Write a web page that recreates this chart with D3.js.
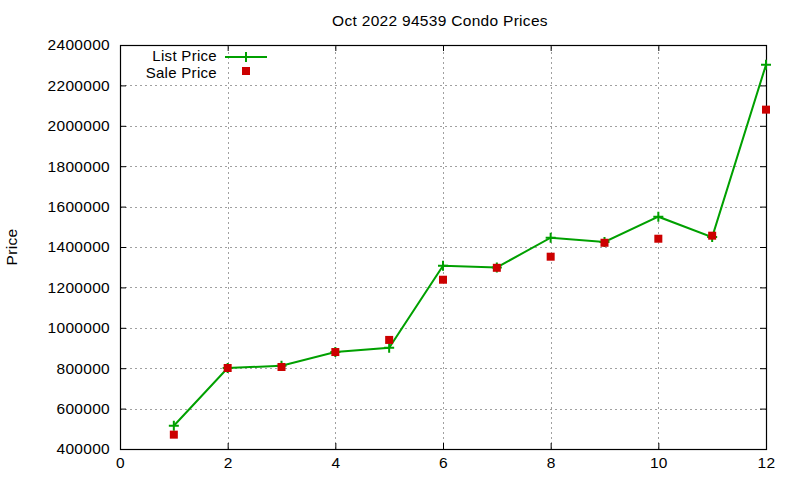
<!DOCTYPE html>
<html>
<head>
<meta charset="utf-8">
<script src="https://cdn.jsdelivr.net/npm/d3@7"></script>
<style>
  body { margin: 0; background: #fff; }
  text { font-family: "Liberation Sans", Arial, sans-serif; font-size: 15.5px; letter-spacing: 0.3px; fill: #000; }
  .legend text { font-size: 15px; }
</style>
</head>
<body>
<div id="chart"></div>
<script>
// Data
const months = [1, 2, 3, 4, 5, 6, 7, 8, 9, 10, 11, 12];
const listPrice = [515000, 801000, 812000, 880000, 901000, 1307000, 1299000, 1446000, 1425000, 1550000, 1449000, 2302000];
const salePrice = [471000, 801000, 806000, 880000, 940000, 1238000, 1297000, 1352000, 1421000, 1441000, 1456000, 2080000];
const xTicks = [0, 2, 4, 6, 8, 10, 12];
const yTicks = [400000, 600000, 800000, 1000000, 1200000, 1400000, 1600000, 1800000, 2000000, 2200000, 2400000];

const width = 800, height = 480;
const margin = { left: 120, right: 34, top: 45, bottom: 31 };

const svg = d3.select("#chart").append("svg")
    .attr("width", width)
    .attr("height", height);

const x = d3.scaleLinear().domain([0, 12]).range([margin.left, width - margin.right]);
const y = d3.scaleLinear().domain([400000, 2400000]).range([height - margin.bottom, margin.top]);

// Grid
const grid = svg.append("g")
    .attr("stroke", "#a0a0a0")
    .attr("stroke-width", 1)
    .attr("stroke-dasharray", "2,3");

grid.selectAll("line.gx")
    .data(xTicks.slice(1, -1))
    .join("line")
    .attr("x1", d => Math.round(x(d)) + 0.5)
    .attr("x2", d => Math.round(x(d)) + 0.5)
    .attr("y1", y(400000))
    .attr("y2", y(2400000));

grid.selectAll("line.gy")
    .data(yTicks.slice(1, -1))
    .join("line")
    .attr("y1", d => Math.round(y(d)) + 0.5)
    .attr("y2", d => Math.round(y(d)) + 0.5)
    .attr("x1", x(0))
    .attr("x2", x(12));

// Axes with inward ticks (mirrored on top and right)
const tickLen = 6;
svg.append("g")
    .attr("transform", `translate(0,${y(400000)})`)
    .call(d3.axisBottom(x).tickValues(xTicks).tickSizeInner(-tickLen).tickSizeOuter(0).tickPadding(8))
    .call(g => g.select(".domain").remove());

svg.append("g")
    .attr("transform", `translate(0,${y(2400000)})`)
    .call(d3.axisTop(x).tickValues(xTicks).tickSizeInner(-tickLen).tickSizeOuter(0).tickFormat(""))
    .call(g => g.select(".domain").remove());

svg.append("g")
    .attr("transform", `translate(${x(0)},0)`)
    .call(d3.axisLeft(y).tickValues(yTicks).tickSizeInner(-tickLen).tickSizeOuter(0).tickPadding(10).tickFormat(d3.format("d")))
    .call(g => g.select(".domain").remove());

svg.append("g")
    .attr("transform", `translate(${x(12)},0)`)
    .call(d3.axisRight(y).tickValues(yTicks).tickSizeInner(-tickLen).tickSizeOuter(0).tickFormat(""))
    .call(g => g.select(".domain").remove());

svg.selectAll(".tick text")
    .attr("font-family", null)
    .attr("font-size", null)
    .style("font-size", "15.5px");
svg.selectAll(".tick line").attr("stroke", "#000");

// Border
svg.append("rect")
    .attr("x", x(0) + 0.5)
    .attr("y", y(2400000) + 0.5)
    .attr("width", x(12) - x(0))
    .attr("height", y(400000) - y(2400000))
    .attr("fill", "none")
    .attr("stroke", "#000")
    .attr("stroke-width", 1.2);

// Title and y label
svg.append("text")
    .attr("x", 440)
    .attr("y", 26)
    .attr("text-anchor", "middle")
    .text("Oct 2022 94539 Condo Prices");

svg.append("text")
    .attr("transform", "translate(17,247) rotate(-90)")
    .attr("text-anchor", "middle")
    .text("Price");

// List price line
const green = "#00a000";
const red = "#cc0000";
const listData = months.map((m, i) => ({ m, v: listPrice[i] }));
const saleData = months.map((m, i) => ({ m, v: salePrice[i] }));

svg.append("path")
    .datum(listData)
    .attr("fill", "none")
    .attr("stroke", green)
    .attr("stroke-width", 2)
    .attr("d", d3.line().x(d => x(d.m)).y(d => y(d.v)));

function plusPath(s) {
    return `M${-s},0H${s}M0,${-s}V${s}`;
}

svg.append("g")
    .selectAll("path")
    .data(listData)
    .join("path")
    .attr("transform", d => `translate(${x(d.m)},${y(d.v)})`)
    .attr("d", plusPath(5))
    .attr("stroke", green)
    .attr("stroke-width", 2)
    .attr("fill", "none");

// Sale price squares
svg.append("g")
    .selectAll("rect")
    .data(saleData)
    .join("rect")
    .attr("x", d => x(d.m) - 4)
    .attr("y", d => y(d.v) - 4)
    .attr("width", 8)
    .attr("height", 8)
    .attr("fill", red);

// Legend
const legend = svg.append("g").attr("class", "legend");
legend.append("text")
    .attr("x", 217)
    .attr("y", 61)
    .attr("text-anchor", "end")
    .text("List Price");
legend.append("line")
    .attr("x1", 225).attr("x2", 267)
    .attr("y1", 57).attr("y2", 57)
    .attr("stroke", green)
    .attr("stroke-width", 2);
legend.append("path")
    .attr("transform", "translate(246,57)")
    .attr("d", plusPath(5))
    .attr("stroke", green)
    .attr("stroke-width", 2);
legend.append("text")
    .attr("x", 217)
    .attr("y", 78)
    .attr("text-anchor", "end")
    .text("Sale Price");
legend.append("rect")
    .attr("x", 242).attr("y", 67)
    .attr("width", 8).attr("height", 8)
    .attr("fill", red);
</script>
</body>
</html>
